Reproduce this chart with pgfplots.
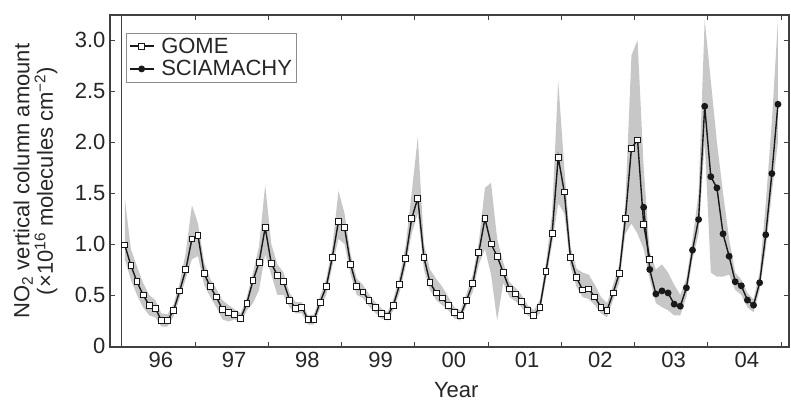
\documentclass[border=0pt]{standalone}
\usepackage{fontspec}
\setmainfont{Liberation Sans}
\usepackage{pgfplots}
\pgfplotsset{compat=1.18}
\usepackage{pgfplotstable}
\usepgfplotslibrary{fillbetween}

\pgfplotstableread{
m v
0 0.99
1 0.79
2 0.63
3 0.50
4 0.40
5 0.37
6 0.25
7 0.25
8 0.35
9 0.54
10 0.75
11 1.05
12 1.08
13 0.71
14 0.58
15 0.48
16 0.36
17 0.33
18 0.31
19 0.27
20 0.42
21 0.64
22 0.82
23 1.16
24 0.81
25 0.69
26 0.63
27 0.45
28 0.37
29 0.38
30 0.26
31 0.26
32 0.43
33 0.58
34 0.87
35 1.22
36 1.16
37 0.80
38 0.58
39 0.53
40 0.45
41 0.38
42 0.32
43 0.29
44 0.40
45 0.60
46 0.86
47 1.25
48 1.45
49 0.87
50 0.62
51 0.52
52 0.47
53 0.40
54 0.33
55 0.30
56 0.45
57 0.61
58 0.92
59 1.25
60 1.00
61 0.88
62 0.72
63 0.56
64 0.51
65 0.44
66 0.35
67 0.30
68 0.38
69 0.73
70 1.10
71 1.85
72 1.51
73 0.87
74 0.67
75 0.55
76 0.56
77 0.48
78 0.38
79 0.35
80 0.52
81 0.71
82 1.25
83 1.94
84 2.02
85 1.19
86 0.85
}\gome

\pgfplotstableread{
m v
85 1.36
86 0.75
87 0.51
88 0.54
89 0.52
90 0.41
91 0.39
92 0.57
93 0.94
94 1.24
95 2.35
96 1.66
97 1.55
98 1.10
99 0.88
100 0.63
101 0.59
102 0.45
103 0.40
104 0.62
105 1.09
106 1.69
107 2.37
}\scia

\pgfplotstableread{
m lo hi
0 0.85 1.45
1 0.65 0.95
2 0.50 0.78
3 0.38 0.62
4 0.30 0.50
5 0.28 0.45
6 0.19 0.32
7 0.19 0.31
8 0.29 0.41
9 0.47 0.62
10 0.66 0.92
11 0.85 1.38
12 0.88 1.20
13 0.60 0.82
14 0.48 0.66
15 0.38 0.56
16 0.26 0.45
17 0.24 0.40
18 0.26 0.36
19 0.23 0.32
20 0.35 0.48
21 0.42 0.72
22 0.55 0.98
23 0.90 1.58
24 0.70 1.00
25 0.50 0.80
26 0.50 0.72
27 0.38 0.52
28 0.32 0.43
29 0.32 0.43
30 0.21 0.30
31 0.21 0.31
32 0.37 0.49
33 0.50 0.66
34 0.78 0.97
35 1.05 1.52
36 1.00 1.30
37 0.70 0.90
38 0.50 0.66
39 0.47 0.60
40 0.39 0.51
41 0.33 0.43
42 0.27 0.37
43 0.25 0.33
44 0.35 0.46
45 0.52 0.68
46 0.78 0.98
47 1.10 1.50
48 1.30 2.05
49 0.75 1.00
50 0.55 0.75
51 0.45 0.66
52 0.40 0.58
53 0.35 0.48
54 0.27 0.38
55 0.25 0.35
56 0.40 0.52
57 0.53 0.70
58 0.80 1.02
59 0.95 1.55
60 0.70 1.60
61 0.25 1.05
62 0.62 0.82
63 0.48 0.63
64 0.44 0.57
65 0.38 0.50
66 0.30 0.40
67 0.26 0.35
68 0.32 0.45
69 0.65 0.82
70 1.00 1.30
71 1.40 2.60
72 1.30 1.75
73 0.78 0.98
74 0.58 0.76
75 0.48 0.72
76 0.46 0.70
77 0.40 0.60
78 0.32 0.48
79 0.28 0.42
80 0.45 0.60
81 0.62 0.80
82 1.10 1.40
83 1.20 2.85
84 1.10 3.00
85 0.95 1.75
86 0.65 0.92
87 0.42 0.75
88 0.38 0.80
89 0.35 0.72
90 0.30 0.60
91 0.30 0.50
92 0.48 0.66
93 0.85 1.05
94 1.10 1.50
95 2.00 3.20
96 0.72 2.60
97 0.68 2.00
98 0.68 1.50
99 0.70 1.05
100 0.55 0.72
101 0.50 0.65
102 0.38 0.52
103 0.33 0.46
104 0.55 0.72
105 0.95 1.40
106 1.50 2.20
107 2.00 3.20
}\band

\begin{document}
\begin{tikzpicture}
\begin{axis}[
  at={(110bp,53bp)}, anchor=south west,
  scale only axis, width=679bp, height=332bp,
  xmin=1995.84, xmax=2005.109, ymin=-0.01, ymax=3.245,
  xtick={1996.5,1997.5,1998.5,1999.5,2000.5,2001.5,2002.5,2003.5,2004.5},
  xticklabels={96,97,98,99,00,01,02,03,04},
  major x tick style={draw=none},
  minor xtick={1997,1998,1999,2000,2001,2002,2003,2004,2005},
  ytick={0,0.5,1,1.5,2,2.5,3},
  yticklabels={0,0.5,1.0,1.5,2.0,2.5,3.0},
  tick align=inside,
  major tick length=5bp, minor tick length=5bp,
  tick style={black!75, line width=0.9bp},
  axis line style={black!75, line width=1.2bp},
  ticklabel style={font=\fontsize{22bp}{25bp}\selectfont, text=black!85},
  xticklabel style={xshift=2.5bp, yshift=-2bp},
  yticklabel style={xshift=-1bp},
  xlabel={Year},
  xlabel style={at={(axis description cs:0.51,-0.13)}, anchor=center, font=\fontsize{22bp}{25bp}\selectfont, text=black!85},
  ylabel={NO\textsubscript{2} vertical column amount\\(\texttimes10\textsuperscript{16} molecules cm\textsuperscript{−2})},
  ylabel style={at={(axis description cs:-0.11,0.5)}, anchor=center, align=center, font=\fontsize{22bp}{23.5bp}\selectfont, text=black!85},
  legend style={at={(0.024,0.946)}, anchor=north west, draw=black!45, line width=0.5bp, font=\fontsize{22bp}{25bp}\selectfont, text=black!85, inner sep=2.5bp, row sep=2bp,
    /tikz/every odd column/.append style={column sep=5bp}},
  legend cell align=left,
  legend image code/.code={\draw[mark repeat=2,mark phase=2] plot coordinates {(0cm,0cm) (0.42cm,0cm) (0.84cm,0cm)};},
  axis on top,
]
\addplot[name path=hi, draw=none, forget plot] table[x expr={1996+(\thisrow{m}+0.5)/12}, y=hi] {\band};
\addplot[name path=lo, draw=none, forget plot] table[x expr={1996+(\thisrow{m}+0.5)/12}, y=lo] {\band};
\addplot[fill=black!22, draw=none, forget plot] fill between[of=hi and lo];
\draw[black!75, line width=1bp] (axis cs:1996,-0.01) -- (axis cs:1996,3.245);
\addplot[black!90, line width=1.4bp, mark=square*, mark size=2.9bp, mark options={fill=white, draw=black!90, line width=0.9bp}] table[x expr={1996+(\thisrow{m}+0.5)/12}, y=v] {\gome};
\addlegendentry{GOME}
\addplot[black!90, line width=1.4bp, mark=*, mark size=2.7bp, mark options={fill=black!90}] table[x expr={1996+(\thisrow{m}+0.5)/12}, y=v] {\scia};
\addlegendentry{SCIAMACHY}
\end{axis}
\path (0,0) rectangle (791bp,400bp);
\end{tikzpicture}
\end{document}
